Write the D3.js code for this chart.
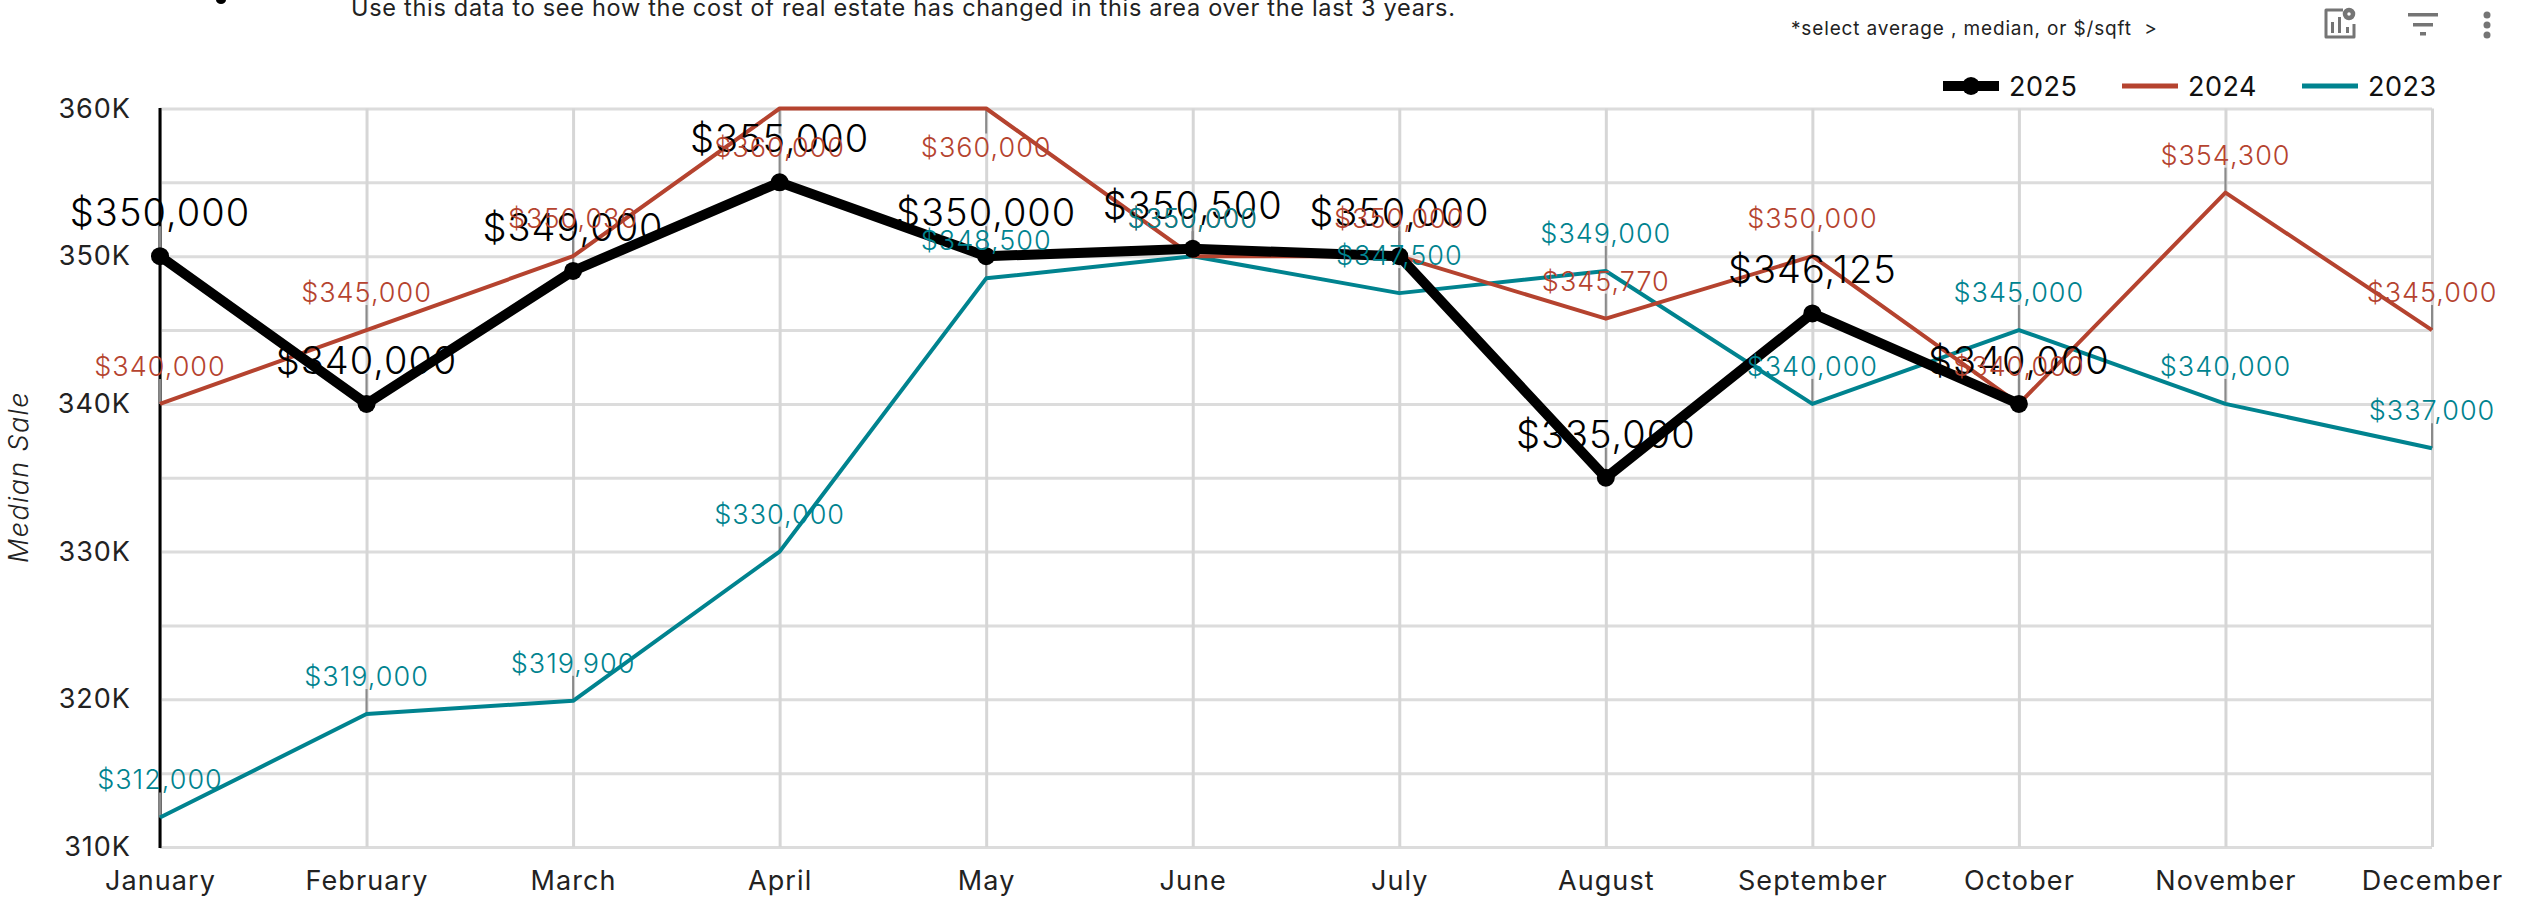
<!DOCTYPE html>
<html><head><meta charset="utf-8">
<script src="https://cdn.jsdelivr.net/npm/d3@7/dist/d3.min.js"></script>
<style>
html,body{margin:0;padding:0;background:#fff;overflow:hidden}
svg{display:block}
text{font-family:Inter,"Open Sans",sans-serif}
</style></head><body><svg id="c" width="2541" height="914"></svg>
<script>
const months=["January","February","March","April","May","June","July","August","September","October","November","December"];
const values2025=[350000,340000,349000,355000,350000,350500,350000,335000,346125,340000];
const values2024=[340000,345000,350000,360000,360000,350000,350000,345770,350000,340000,354300,345000];
const values2023=[312000,319000,319900,330000,348500,350000,347500,349000,340000,345000,340000,337000];
const labels2024=["$340,000","$345,000","$350,030","$360,000","$360,000","$350,000","$350,000","$345,770","$350,000","$340,000","$354,300","$345,000"];
const yGridTicks=[310000,315000,320000,325000,330000,335000,340000,345000,350000,355000,360000];
const yLabelTicks=[310000,320000,330000,340000,350000,360000];
const seriesNames=["2025","2024","2023"];
const seriesColors=["#000000","#b5432f","#00838f"];
const subtitle="Use this data to see how the cost of real estate has changed in this area over the last 3 years.";
const hint="*select average , median, or $/sqft  >";
const yTitle="Median Sale";

const svg=d3.select("#c");
const x=d3.scalePoint().domain(months).range([160,2432]);
const y=d3.scaleLinear().domain([310000,360000]).range([847,108.5]);
const fmt=d3.format("$,");
const FONT=27, BIG=38;

// grid
const gy=svg.append("g").attr("transform","translate(160,0)")
  .call(d3.axisLeft(y).tickValues(yGridTicks).tickSize(-2272).tickFormat(""));
gy.select(".domain").remove();
gy.selectAll("line").attr("stroke","#dcdcdc").attr("stroke-width",3);
const gx=svg.append("g").attr("transform","translate(0,847)")
  .call(d3.axisBottom(x).tickSize(-738.5).tickFormat(""));
gx.select(".domain").remove();
gx.selectAll("line").attr("stroke","#d6d6d6").attr("stroke-width",3);

// axis labels
const ly=svg.append("g").attr("transform","translate(131,0)")
  .call(d3.axisLeft(y).tickValues(yLabelTicks).tickSize(0).tickPadding(0).tickFormat(d=>(d/1000)+"K"));
ly.select(".domain").remove();
ly.selectAll("text").attr("font-size",FONT).attr("fill","#222").attr("font-family","Inter").attr("font-weight",400).attr("letter-spacing",1);
const lx=svg.append("g").attr("transform","translate(0,847)")
  .call(d3.axisBottom(x).tickSize(0).tickPadding(24));
lx.select(".domain").remove();
lx.selectAll("text").attr("font-size",FONT).attr("fill","#222").attr("font-family","Inter").attr("font-weight",400).attr("letter-spacing",1.1);

svg.append("line").attr("x1",160).attr("x2",160).attr("y1",108).attr("y2",848)
  .attr("stroke","#000").attr("stroke-width",3);

// leaders
function leaders(vals,len,flip){
  svg.append("g").selectAll("line").data(vals).join("line")
    .attr("x1",(d,i)=>x(months[i])).attr("x2",(d,i)=>x(months[i]))
    .attr("y1",d=>y(d)).attr("y2",d=>y(d)+(flip(d)?len:-len))
    .attr("stroke","#8a8a8a").attr("stroke-width",2);
}
const topFlip=d=>d>=360000, noFlip=()=>false;
leaders(values2025,30,noFlip);
leaders(values2024,25,topFlip);
leaders(values2023,25,noFlip);

// lines
const line=d3.line().x((d,i)=>x(months[i])).y(d=>y(d));
[[values2023,2,4],[values2024,1,4],[values2025,0,10]].forEach(([v,c,w])=>{
  svg.append("path").attr("d",line(v)).attr("fill","none")
    .attr("stroke",seriesColors[c]).attr("stroke-width",w).attr("stroke-linejoin","round");
});
svg.append("g").selectAll("circle").data(values2025).join("circle")
  .attr("cx",(d,i)=>x(months[i])).attr("cy",d=>y(d)).attr("r",9).attr("fill","#000");

// value labels
function labels(vals,texts,size,color,off,flip){
  svg.append("g").selectAll("text").data(vals).join("text")
    .attr("x",(d,i)=>x(months[i])).attr("y",d=>y(d)+(flip(d)?48:off))
    .attr("text-anchor","middle").attr("font-size",size).attr("fill",color)
    .attr("font-weight",300).attr("letter-spacing",1)
    .text((d,i)=>texts?texts[i]:fmt(d));
}
labels(values2025,null,BIG,seriesColors[0],-30,noFlip);
labels(values2024,labels2024,FONT,seriesColors[1],-28,topFlip);
labels(values2023,null,FONT,seriesColors[2],-28,noFlip);

// y title
svg.append("text").attr("transform","translate(28,477) rotate(-90)")
  .attr("text-anchor","middle").attr("font-size",FONT).attr("font-style","italic")
  .attr("font-weight",300).attr("fill","#222").attr("letter-spacing",1.35).text(yTitle);

// header texts
svg.append("ellipse").attr("cx",221).attr("cy",0).attr("rx",5).attr("ry",4).attr("fill","#000");
svg.append("text").attr("x",351).attr("y",16).attr("font-size",23.5).attr("fill","#222").attr("letter-spacing",0.7).text(subtitle);
svg.append("text").attr("x",1791).attr("y",35).attr("font-size",19).attr("fill","#222").attr("letter-spacing",0.85).attr("xml:space","preserve").text(hint);

// legend
const legendX=[1943,2122,2302], legendW=[10,5,5];
seriesNames.forEach((n,i)=>{
  svg.append("line").attr("x1",legendX[i]).attr("x2",legendX[i]+56).attr("y1",86).attr("y2",86)
    .attr("stroke",seriesColors[i]).attr("stroke-width",legendW[i]);
  if(i===0) svg.append("circle").attr("cx",legendX[i]+28).attr("cy",86).attr("r",9).attr("fill","#000");
  svg.append("text").attr("x",legendX[i]+66).attr("y",96).attr("font-size",FONT).attr("fill","#111").attr("letter-spacing",0.5).text(n);
});

// toolbar icons
const ic=svg.append("g").attr("fill","#757575");
ic.append("path").attr("fill","none").attr("stroke","#757575").attr("stroke-width",3)
  .attr("stroke-linejoin","round").attr("d","M2343 10H2326V37H2354V24");
ic.selectAll("rect.b").data([[2331,19,12],[2338,14,17],[2346,24,7]]).join("rect")
  .attr("x",d=>d[0]).attr("y",d=>d[1]+3).attr("width",3).attr("height",d=>d[2]-1);
ic.append("circle").attr("cx",2349).attr("cy",14).attr("r",4).attr("fill","none").attr("stroke","#757575").attr("stroke-width",4.5);
[[2408,30,13],[2413,20,23],[2420,6,32]].forEach(d=>ic.append("rect").attr("x",d[0]).attr("y",d[2]).attr("width",d[1]).attr("height",3.5));
[15,25,35].forEach(cy=>ic.append("circle").attr("cx",2487).attr("cy",cy).attr("r",3.5));
</script></body></html>
